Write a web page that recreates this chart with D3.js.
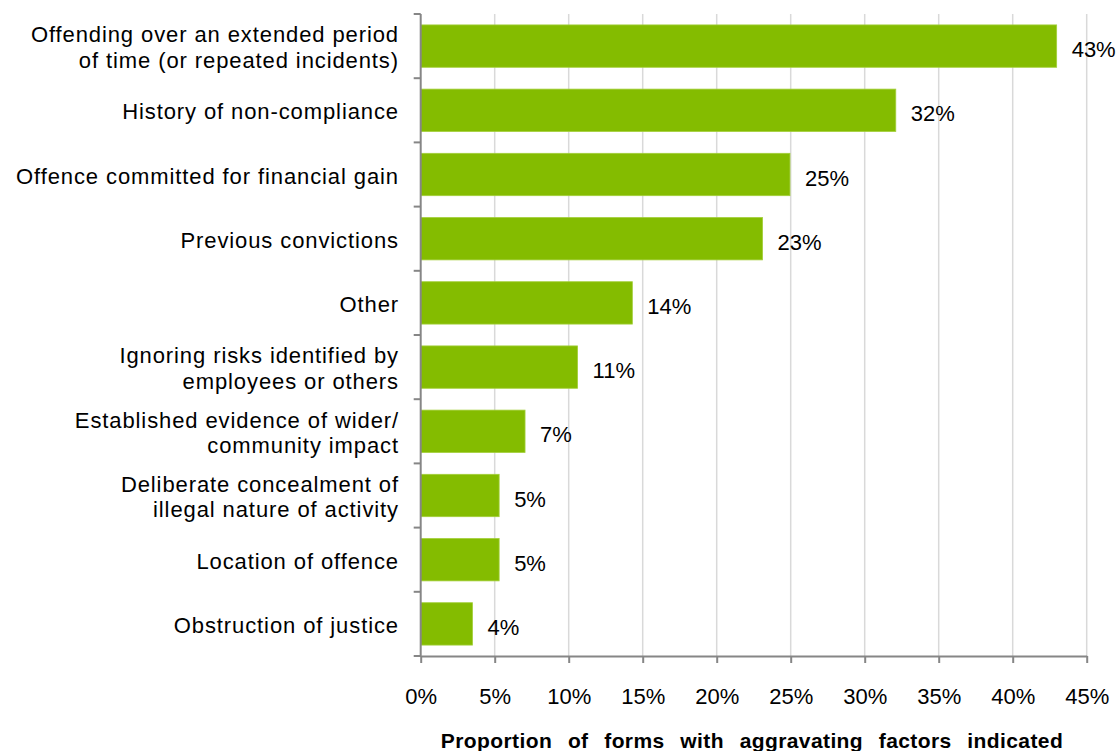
<!DOCTYPE html>
<html>
<head>
<meta charset="utf-8">
<script src="https://cdn.jsdelivr.net/npm/d3@7"></script>
<style>
  html, body { margin: 0; padding: 0; background: #fff; }
  svg { display: block; font-family: "Liberation Sans", Arial, sans-serif; }
</style>
</head>
<body>
<svg id="chart" width="1120" height="751"></svg>
<script>
// Aggravating factors, each label split into its display lines
const categories = [
  ["Offending over an extended period", "of time (or repeated incidents)"],
  ["History of non-compliance"],
  ["Offence committed for financial gain"],
  ["Previous convictions"],
  ["Other"],
  ["Ignoring risks identified by", "employees or others"],
  ["Established evidence of wider/", "community impact"],
  ["Deliberate concealment of", "illegal nature of activity"],
  ["Location of offence"],
  ["Obstruction of justice"]
];
// Share of forms (%) indicating each factor
const values = [42.97, 32.1, 24.95, 23.1, 14.3, 10.6, 7.05, 5.3, 5.3, 3.5];
const xTicks = [0, 5, 10, 15, 20, 25, 30, 35, 40, 45];
const axisTitle = "Proportion of forms with aggravating factors indicated";

const svg = d3.select("#chart");
const plot = { left: 420.7, right: 1086.7, top: 14, bottom: 656 };

const x = d3.scaleLinear().domain([0, 45]).range([plot.left, plot.right]);
const y = d3.scaleBand()
  .domain(d3.range(categories.length))
  .range([plot.top, plot.bottom])
  .paddingInner(0.34)
  .paddingOuter(0.17);

// Vertical gridlines
svg.append("g")
  .selectAll("line")
  .data(xTicks.filter(t => t > 0))
  .join("line")
  .attr("x1", d => x(d)).attr("x2", d => x(d))
  .attr("y1", plot.top).attr("y2", plot.bottom)
  .attr("stroke", "#d9d9d9")
  .attr("stroke-width", 1.5);

// Bars
svg.append("g")
  .selectAll("rect")
  .data(values)
  .join("rect")
  .attr("x", x(0))
  .attr("y", (d, i) => y(i))
  .attr("width", d => x(d) - x(0))
  .attr("height", y.bandwidth())
  .attr("fill", "#84bc00")
  .attr("stroke", "#a3cf3a")
  .attr("stroke-width", 0.8);

// Value labels
svg.append("g")
  .selectAll("text")
  .data(values)
  .join("text")
  .attr("x", d => x(d) + 15)
  .attr("y", (d, i) => y(i) + y.bandwidth() / 2 + 3.5)
  .attr("dominant-baseline", "central")
  .attr("font-size", 22)
  .attr("fill", "#000")
  .text(d => Math.round(d) + "%");

// X axis
const xAxis = svg.append("g")
  .attr("transform", `translate(0,${plot.bottom})`)
  .call(d3.axisBottom(x).tickValues(xTicks).tickSize(7).tickSizeOuter(0).tickFormat(d => d + "%"));
xAxis.select(".domain").attr("stroke", "#868686").attr("stroke-width", 2);
xAxis.selectAll(".tick line").attr("stroke", "#868686").attr("stroke-width", 2);
xAxis.selectAll(".tick text")
  .attr("font-size", 22)
  .attr("font-family", "Liberation Sans, Arial, sans-serif")
  .attr("fill", "#000")
  .attr("y", 0)
  .attr("dy", null)
  .attr("transform", "translate(0,40)")
  .attr("dominant-baseline", "central");

// Y axis (line with ticks at category boundaries)
const yAxis = svg.append("g");
yAxis.append("line")
  .attr("x1", plot.left).attr("x2", plot.left)
  .attr("y1", plot.top).attr("y2", plot.bottom + 1)
  .attr("stroke", "#868686").attr("stroke-width", 2);
const step = (plot.bottom - plot.top) / categories.length;
yAxis.selectAll("line.tk")
  .data(d3.range(categories.length + 1))
  .join("line")
  .attr("class", "tk")
  .attr("x1", plot.left - 7).attr("x2", plot.left)
  .attr("y1", i => plot.top + i * step).attr("y2", i => plot.top + i * step)
  .attr("stroke", "#868686").attr("stroke-width", 2);

// Category labels
const lineH = 25.5;
const catG = svg.append("g");
categories.forEach((lines, i) => {
  const cy = y(i) + y.bandwidth() / 2 + 1.5;
  const t = catG.append("text")
    .attr("text-anchor", "end")
    .attr("font-size", 22)
    .attr("letter-spacing", 0.9)
    .attr("fill", "#000");
  lines.forEach((ln, j) => {
    t.append("tspan")
      .attr("x", 399)
      .attr("y", cy + (j - (lines.length - 1) / 2) * lineH)
      .attr("dominant-baseline", "central")
      .text(ln);
  });
});

// Axis title
svg.append("text")
  .attr("x", 752)
  .attr("y", 740)
  .attr("text-anchor", "middle")
  .attr("dominant-baseline", "central")
  .attr("font-size", 21)
  .attr("font-weight", "bold")
  .attr("letter-spacing", 0.4)
  .attr("word-spacing", 9.5)
  .attr("fill", "#000")
  .text(axisTitle);
</script>
</body>
</html>
